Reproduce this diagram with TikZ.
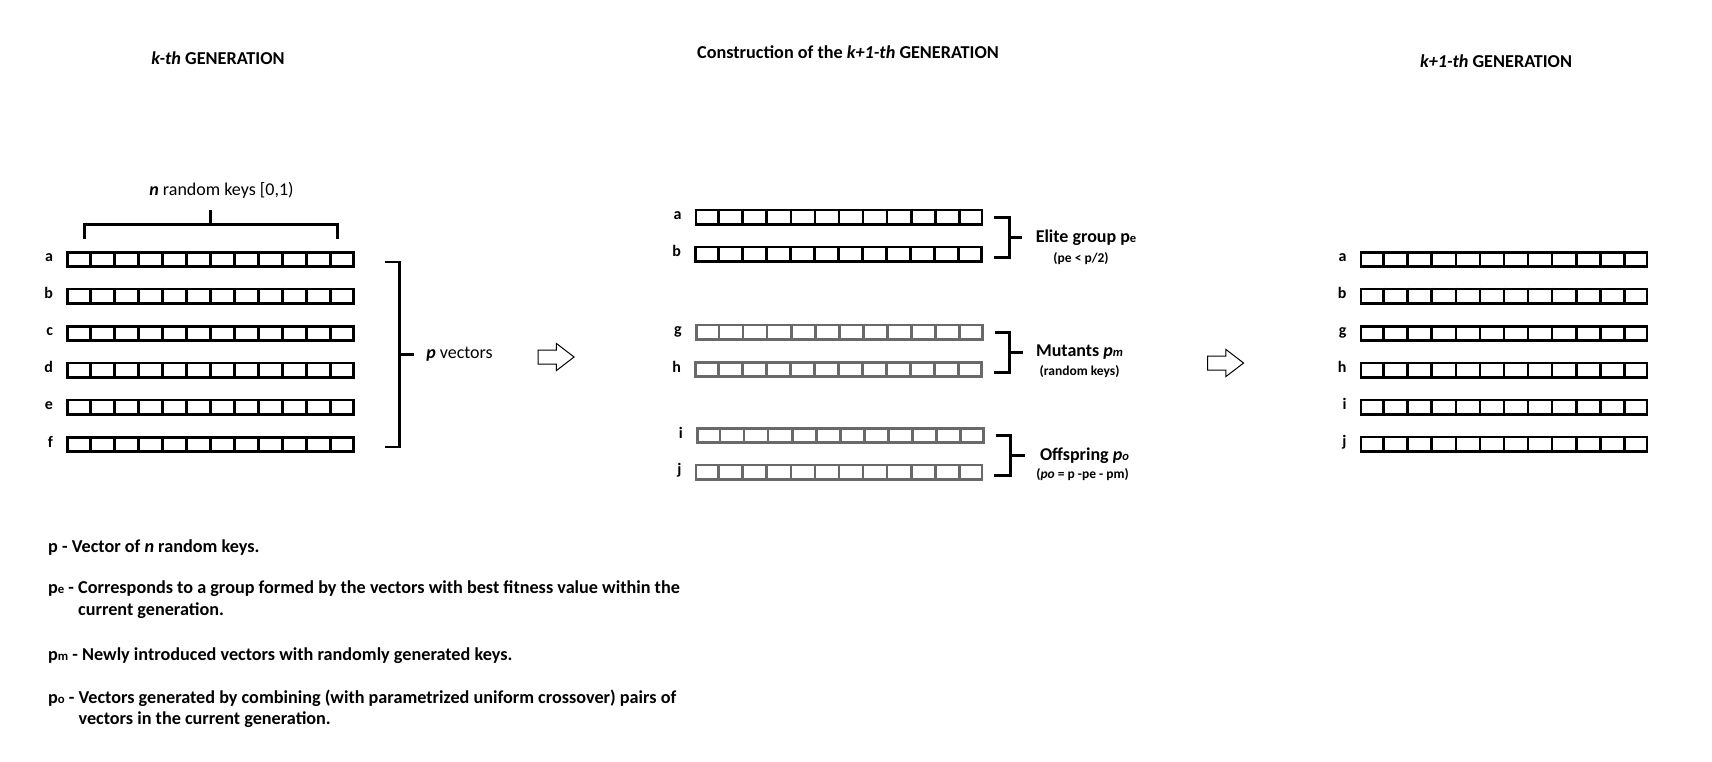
\documentclass[tikz,border=0pt]{standalone}
\usepackage{fontspec}
\setmainfont{Carlito}
\usepackage{graphicx}
\usetikzlibrary{calc,positioning,shapes.arrows}
\definecolor{KeyGray}{RGB}{105,105,105}
\newcommand{\lowtxt}[1]{\scalebox{0.7}{#1}}

\begin{document}
\begin{tikzpicture}[x=1pt,y=-1pt,node distance=13pt]
  \tikzset{
    keyvec/.style={draw=#1,line width=2.7pt,minimum width=286pt,minimum height=14.5pt,inner sep=0pt},
    rowlbl/.style={font=\fontsize{16}{16}\selectfont\bfseries,inner sep=0pt,text height=8pt,text depth=3pt},
    brk/.style={line width=2.8pt},
    coltitle/.style={font=\fontsize{18.2}{20}\selectfont\bfseries,inner sep=0pt},
    grptxt/.style={font=\fontsize{18}{20}\selectfont\bfseries,inner sep=0pt},
    grpsub/.style={font=\fontsize{13.5}{15}\selectfont\bfseries,inner sep=0pt},
    legend/.style={font=\fontsize{18.2}{21.5}\selectfont\bfseries,inner sep=0pt,anchor=base west},
    blockarr/.style={draw,line width=1pt,single arrow,single arrow head extend=6.5pt,single arrow tip angle=75,minimum height=36pt,inner xsep=0pt,inner ysep=6.5pt}
  }
  \useasboundingbox (0,0) rectangle (1712,761);

  % column titles
  \node[coltitle] (t1) at (218,58) {\textit{k-th} GENERATION};
  \node[coltitle] (t2) at (848,52) {Construction of the \textit{k+1-th} GENERATION};
  \node[coltitle] (t3) at (1496,61) {\textit{k+1-th} GENERATION};

  % key vectors
  \foreach \nm/\lb/\cx/\cy/\cl in {ka/a/210.5/259.4/black,kb/b/210.5/296.3/black,kc/c/210.5/333.4/black,
      kd/d/210.5/370.3/black,ke/e/210.5/407.3/black,kf/f/210.5/444.5/black,
      ca/a/839/217.3/black,cb/b/838.5/254.3/black,cg/g/839.3/332.3/KeyGray,
      ch/h/838.5/369.5/KeyGray,ci/i/840.3/435.5/KeyGray,cj/j/839/472.3/KeyGray,
      na/a/1504/259.4/black,nb/b/1504/296.3/black,ng/g/1504/333.4/black,
      nh/h/1504/370.3/black,ni/i/1504/407.3/black,nj/j/1504/444.3/black}{
    \node[keyvec=\cl] (\nm) at (\cx,\cy) {};
    \node[rowlbl,left=of \nm] (\nm-l) {\lb};
    \foreach \k in {1,...,11}
      \draw[draw=\cl,line width=2.7pt] ($(\nm.north west)!\k/12!(\nm.north east)$) -- ($(\nm.south west)!\k/12!(\nm.south east)$);
  }

  % n random keys
  \draw[brk] ($(ka.north west)+(18,-12)$) -- ++(0,-14) -- ($(ka.north east)+(-17,-26)$) -- ++(0,14);
  \draw[brk] ($(ka.north)+(0,-26)$) -- ++(0,-15) node[above=10pt,xshift=11pt,inner sep=0pt,font=\fontsize{18}{20}\selectfont] (nkeys) {\textbf{\textit{n}} random keys [0,1)};

  % p vectors
  \coordinate (ptop) at ([xshift=30pt,yshift=-2.5pt]ka.east);
  \coordinate (pbot) at ([xshift=30pt,yshift=-2.5pt]kf.east);
  \draw[brk] (ptop) -- ++(15,0) coordinate (pb) -- (pb |- pbot) -- (pbot);
  \draw[brk] ($(pb)!0.5!(pb |- pbot)$) -- ++(14,0) node[right=11pt,inner sep=0pt,font=\fontsize{18}{20}\selectfont] (pvec) {\textbf{\textit{p}} vectors};

  % groups
  \coordinate (ebot) at ([xshift=11pt,yshift=-3pt]cb.east);
  \draw[brk] ([xshift=11pt]ca.east) -- ++(15,0) coordinate (eb) -- (eb |- ebot) -- (ebot);
  \draw[brk] ($(eb)!0.5!(eb |- ebot)$) -- ++(13,0) node[grptxt,right=12pt] (elite) {Elite group p\lowtxt{e}};
  \node[grpsub,below=6pt of elite,xshift=-5pt] (elitesub) {(pe < p/2)};

  \coordinate (mbot) at ([xshift=11pt,yshift=-3pt]ch.east);
  \draw[brk] ([xshift=11pt]cg.east) -- ++(15,0) coordinate (mb) -- (mb |- mbot) -- (mbot);
  \draw[brk] ($(mb)!0.5!(mb |- mbot)$) -- ++(13,0) node[grptxt,right=12pt] (mut) {Mutants \textit{p\lowtxt{m}}};
  \node[grpsub,below=4pt of mut] (mutsub) {(random keys)};

  \coordinate (obot) at ([xshift=11pt,yshift=-3pt]cj.east);
  \draw[brk] ([xshift=11pt]ci.east) -- ++(15,0) coordinate (ob) -- (ob |- obot) -- (obot);
  \draw[brk] ($(ob)!0.5!(ob |- obot)$) -- ++(14,0) node[grptxt,right=14pt] (off) {Offspring \textit{p\lowtxt{o}}};
  \node[grpsub,below=4pt of off,xshift=-2pt] (offsub) {(\textit{po} = p -pe - pm)};

  % block arrows
  \node[blockarr] (arr1) at (551.5,357) {};
  \node[blockarr] (arr2) at (1221,363) {};

  % legend
  \node[legend] (lgp) at (48,552.7) {p - Vector of \textit{n} random keys.};
  \node[legend] (lgpe) at (48,593.7) {\begin{tabular}[t]{@{}l@{\ }l@{}}p\lowtxt{e} - & Corresponds to a group formed by the vectors with best fitness value within the\\ & current generation.\end{tabular}};
  \node[legend] (lgpm) at (48,660.4) {p\lowtxt{m} - Newly introduced vectors with randomly generated keys.};
  \node[legend] (lgpo) at (48,703.4) {\begin{tabular}[t]{@{}l@{\ }l@{}}p\lowtxt{o} - & Vectors generated by combining (with parametrized uniform crossover) pairs of\\ & vectors in the current generation.\end{tabular}};
\end{tikzpicture}
\end{document}
